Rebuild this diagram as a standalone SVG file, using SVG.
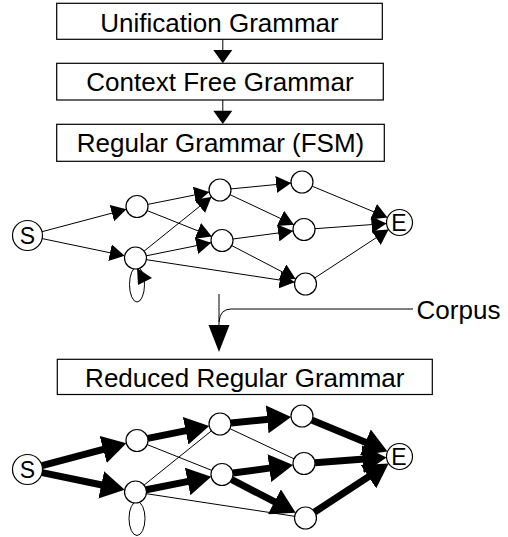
<svg xmlns="http://www.w3.org/2000/svg" width="508" height="537" viewBox="0 0 508 537">
<style>
.box{fill:#fff;stroke:#000;stroke-width:1.2}
.lbl{font-family:"Liberation Sans",Arial,sans-serif;font-size:26px;text-anchor:middle;fill:#000}
.nl{font-family:"Liberation Sans",Arial,sans-serif;font-size:23px;text-anchor:middle;fill:#000}
.nd{fill:#fff;stroke:#000;stroke-width:1.2}
.e1{stroke:#000;stroke-width:1;fill:none;marker-end:url(#ah)}
.t{stroke:#000;stroke-width:1;fill:none}
.k{stroke:#000;stroke-width:7;fill:none;marker-end:url(#ahb)}
</style>
<defs>
<marker id="ah" markerUnits="userSpaceOnUse" viewBox="0 -8.5 15 17" markerWidth="15" markerHeight="17" refX="15" refY="0" orient="auto"><path d="M0,-8.5 L15,0 L0,8.5 z" fill="#000"/></marker>
<marker id="ahb" markerUnits="userSpaceOnUse" viewBox="0 -14 24 28" markerWidth="24" markerHeight="28" refX="2" refY="0" orient="auto"><path d="M0,-14 L24,0 L0,14 z" fill="#000"/></marker>
</defs>
<rect width="508" height="537" fill="#fff"/>

<g id="connectors-flow">
<line class="t" x1="222.8" y1="39.3" x2="222.8" y2="51"/>
<polygon points="213.3,50 232.3,50 222.8,63.3" fill="#000"/>
<line class="t" x1="222.8" y1="100" x2="222.8" y2="112"/>
<polygon points="213.3,110.7 232.3,110.7 222.8,124" fill="#000"/>
<line class="t" x1="219" y1="294" x2="219" y2="327"/>
<path class="t" d="M413,309 L231,309 Q220,309 219,322"/>
<polygon points="208.5,325 229.5,325 219,352" fill="#000"/>
</g>

<g id="box-unification"><rect class="box" x="56.7" y="3.3" width="325.6" height="36"/><text class="lbl" x="219.5" y="31.7">Unification Grammar</text></g>
<g id="box-cfg"><rect class="box" x="56.7" y="63.3" width="326.6" height="36.7"/><text class="lbl" x="220" y="90.7">Context Free Grammar</text></g>
<g id="box-regular"><rect class="box" x="56.7" y="124.3" width="327.6" height="37"/><text class="lbl" x="220.5" y="151.5">Regular Grammar (FSM)</text></g>
<g id="label-corpus"><text class="lbl" x="458.5" y="319">Corpus</text></g>
<g id="box-reduced"><rect class="box" x="57.3" y="359.3" width="375" height="35.2"/><text class="lbl" x="244.8" y="386.5">Reduced Regular Grammar</text></g>

<g id="fsm1">
<g id="fsm1-connectors">
<line class="e1" x1="42.0" y1="231.7" x2="126.4" y2="209.3"/>
<line class="e1" x1="42.2" y1="238.6" x2="124.7" y2="255.8"/>
<line class="e1" x1="147.8" y1="204.4" x2="209.2" y2="192.1"/>
<line class="e1" x1="147.2" y1="210.6" x2="211.8" y2="236.4"/>
<line class="e1" x1="144.1" y1="251.1" x2="211.4" y2="196.9"/>
<line class="e1" x1="146.3" y1="255.8" x2="211.2" y2="242.7"/>
<line class="e1" x1="146.4" y1="259.7" x2="294.6" y2="282.3"/>
<line class="e1" x1="230.9" y1="188.9" x2="291.1" y2="183.1"/>
<line class="e1" x1="230.0" y1="194.7" x2="294.0" y2="224.8"/>
<line class="e1" x1="232.9" y1="239.0" x2="293.1" y2="231.0"/>
<line class="e1" x1="231.8" y1="245.6" x2="295.7" y2="278.9"/>
<line class="e1" x1="312.2" y1="186.2" x2="387.5" y2="217.5"/>
<line class="e1" x1="315.0" y1="228.7" x2="386.5" y2="223.5"/>
<line class="e1" x1="314.7" y1="278.0" x2="388.6" y2="229.6"/>
<ellipse class="t" cx="137" cy="284.5" rx="7.5" ry="17.5"/>
<polygon points="137,268 138,285 152,278" fill="#000"/>
</g>
<g id="fsm1-S"><circle class="nd" cx="27.5" cy="235.5" r="15"/><text class="nl" x="27.5" y="244">S</text></g>
<g id="fsm1-A"><circle class="nd" cx="137" cy="206.5" r="11"/></g>
<g id="fsm1-B"><circle class="nd" cx="135.5" cy="258" r="11"/></g>
<g id="fsm1-C"><circle class="nd" cx="220" cy="190" r="11"/></g>
<g id="fsm1-D"><circle class="nd" cx="222" cy="240.5" r="11"/></g>
<g id="fsm1-F"><circle class="nd" cx="302" cy="182" r="11"/></g>
<g id="fsm1-G"><circle class="nd" cx="304" cy="229.5" r="11"/></g>
<g id="fsm1-H"><circle class="nd" cx="305.5" cy="284" r="11"/></g>
<g id="fsm1-E"><circle class="nd" cx="399.5" cy="222.5" r="13"/><text class="nl" x="399" y="231">E</text></g>
</g>

<g id="fsm2" transform="translate(0,234)">
<g id="fsm2-connectors">
<line class="t" x1="147.2" y1="210.6" x2="211.8" y2="236.4"/>
<line class="t" x1="144.1" y1="251.1" x2="211.4" y2="196.9"/>
<line class="t" x1="146.4" y1="259.7" x2="294.6" y2="282.3"/>
<line class="t" x1="230.0" y1="194.7" x2="294.0" y2="224.8"/>
<line class="k" x1="42.0" y1="231.7" x2="105.1" y2="214.9"/>
<line class="k" x1="42.2" y1="238.6" x2="103.2" y2="251.3"/>
<line class="k" x1="147.8" y1="204.4" x2="187.6" y2="196.4"/>
<line class="k" x1="146.3" y1="255.8" x2="189.6" y2="247.1"/>
<line class="k" x1="230.9" y1="188.9" x2="269.2" y2="185.2"/>
<line class="k" x1="232.9" y1="239.0" x2="271.3" y2="233.9"/>
<line class="k" x1="231.8" y1="245.6" x2="276.2" y2="268.7"/>
<line class="k" x1="312.2" y1="186.2" x2="367.2" y2="209.1"/>
<line class="k" x1="315.0" y1="228.7" x2="364.6" y2="225.1"/>
<line class="k" x1="314.7" y1="278.0" x2="370.2" y2="241.6"/>
<ellipse class="t" cx="137" cy="284.5" rx="8" ry="17"/>
</g>
<g id="fsm2-S"><circle class="nd" cx="27.5" cy="235.5" r="15"/><text class="nl" x="27.5" y="244">S</text></g>
<g id="fsm2-A"><circle class="nd" cx="137" cy="206.5" r="11"/></g>
<g id="fsm2-B"><circle class="nd" cx="135.5" cy="258" r="11"/></g>
<g id="fsm2-C"><circle class="nd" cx="220" cy="190" r="11"/></g>
<g id="fsm2-D"><circle class="nd" cx="222" cy="240.5" r="11"/></g>
<g id="fsm2-F"><circle class="nd" cx="302" cy="182" r="11"/></g>
<g id="fsm2-G"><circle class="nd" cx="304" cy="229.5" r="11"/></g>
<g id="fsm2-H"><circle class="nd" cx="305.5" cy="284" r="11"/></g>
<g id="fsm2-E"><circle class="nd" cx="399.5" cy="222.5" r="13"/><text class="nl" x="399" y="231">E</text></g>
</g>
</svg>
